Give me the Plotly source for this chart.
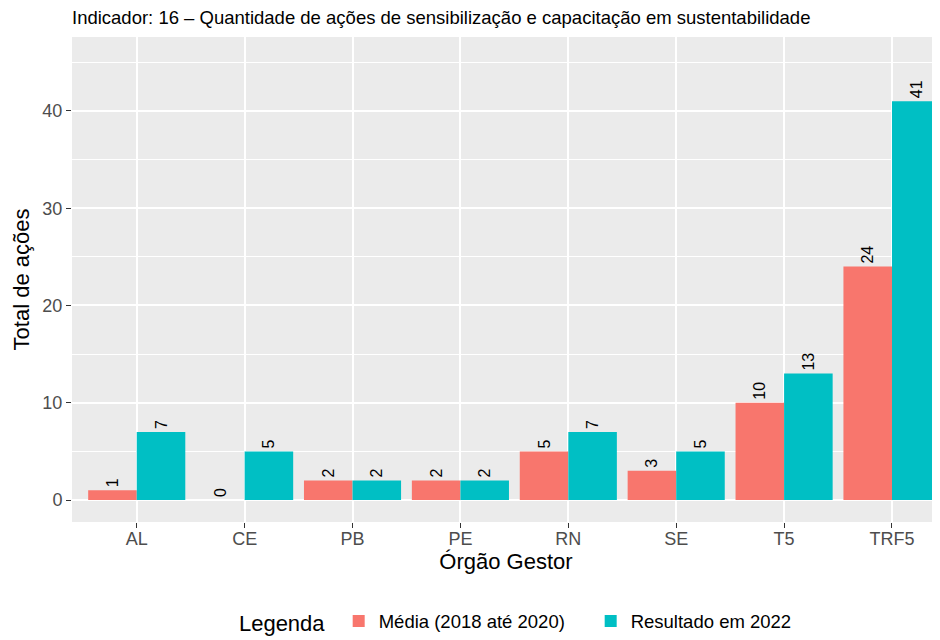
import plotly.graph_objects as go

categorias = ["AL", "CE", "PB", "PE", "RN", "SE", "T5", "TRF5"]
media_2018_2020 = [1, 0, 2, 2, 5, 3, 10, 24]
resultado_2022 = [7, 5, 2, 2, 7, 5, 13, 41]
nomes_series = ["Média (2018 até 2020)", "Resultado em 2022"]
cores = ["#F8766D", "#00BFC4"]

FONT = "Liberation Sans, Arial, Helvetica, sans-serif"

# page body has an 8px default margin, so the figure is sized to fit the window
W, H = 932, 632

fig = go.Figure()
for nome, vals, cor in zip(nomes_series, [media_2018_2020, resultado_2022], cores):
    fig.add_trace(go.Bar(
        x=categorias, y=vals, name=nome,
        marker=dict(color=cor, line=dict(width=0)),
        text=[str(v) for v in vals], textposition="outside", textangle=-90,
        textfont=dict(family=FONT, size=16, color="black"),
        constraintext="none", cliponaxis=False,
    ))

fig.update_layout(
    width=W, height=H,
    margin=dict(l=64, r=0, t=29, b=118, autoexpand=False),
    paper_bgcolor="white", plot_bgcolor="#EBEBEB",
    barmode="group", bargap=0.1, bargroupgap=0,
    font=dict(family=FONT, color="black"),
    title=dict(text="Indicador: 16 – Quantidade de ações de sensibilização e capacitação em sustentabilidade",
               x=64/W, xanchor="left", y=1-10/H, yanchor="middle",
               font=dict(size=18.5, color="black")),
    showlegend=True,
    legend=dict(orientation="h", x=0.19, xanchor="left", y=-0.206, yanchor="middle",
                title=dict(text="Legenda ", font=dict(size=22)),
                font=dict(size=18.5), traceorder="normal",
                entrywidth=207, entrywidthmode="pixels"),
)
fig.update_xaxes(
    range=[-0.6, 7.445], showgrid=True, gridcolor="white", gridwidth=1.6,
    ticks="outside", ticklen=5, tickcolor="#333333", tickwidth=1.2,
    tickfont=dict(size=18, color="#4D4D4D"), ticklabelstandoff=-5,
    title=dict(text="Órgão Gestor", font=dict(size=22), standoff=4),
    zeroline=False, showline=False, automargin=False,
)
fig.update_yaxes(
    range=[-2.26, 47.6], showgrid=True, gridcolor="white", gridwidth=1.6,
    dtick=10, tick0=0,
    minor=dict(dtick=5, tick0=0, showgrid=True, gridcolor="white", gridwidth=0.8),
    ticks="outside", ticklen=5, tickcolor="#333333", tickwidth=1.2,
    tickfont=dict(size=18, color="#4D4D4D"),
    title=dict(text="Total de ações", font=dict(size=22), standoff=6),
    zeroline=False, showline=False, automargin=False,
)

fig.write_html("out.html")
